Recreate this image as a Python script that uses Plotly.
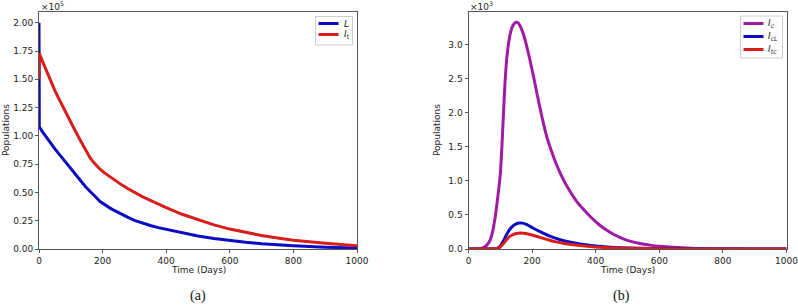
import plotly.graph_objects as go

# ---- Data ----
t_L = [0, 1, 10, 20, 35, 50, 66, 80, 97, 113, 129, 145, 160, 170, 180, 192, 205, 220, 235, 250,
       265, 280, 300, 325, 350, 375, 400, 450, 500, 550, 600, 650, 700, 750, 800, 900, 1000]
L_vals = [200000, 108000, 104000, 100000, 94000, 88500, 83000, 78000, 72000, 66500, 61000, 55500,
          51000, 48500, 45500, 42000, 39300, 36800, 34300, 32000, 29900, 28000, 25300, 22900,
          20800, 18900, 17300, 14200, 11500, 9200, 7300, 5900, 4600, 3600, 2800, 1600, 900]

t_It = [0, 1, 10, 20, 35, 50, 66, 80, 97, 113, 129, 145, 160, 170, 180, 192, 205, 223, 240, 260,
        280, 300, 325, 350, 375, 400, 450, 500, 550, 600, 650, 700, 750, 800, 900, 1000]
It_vals = [150000, 173000, 166500, 159500, 149500, 140000, 131000, 123000, 114000, 105000, 96500,
           88000, 81000, 77000, 74000, 70500, 67500, 63800, 60300, 56700, 53300, 50000, 46300,
           43000, 39700, 36500, 30700, 25700, 21300, 17600, 14600, 11900, 9700, 7800, 5000, 2800]

t_Ic = [0, 30, 40, 50, 60, 68, 76, 84, 92, 100, 105, 110, 115, 120, 128, 136, 144, 150, 156, 164,
        173, 183, 194, 205, 215, 230, 246, 260, 275, 290, 305, 320, 340, 360, 382, 410, 435, 460,
        487, 510, 539, 570, 600, 644, 700, 750, 800, 900, 1000]
Ic_vals = [0, 3, 10, 30, 70, 130, 260, 470, 760, 1100, 1500, 2000, 2450, 2780, 3080, 3240, 3310,
           3330, 3320, 3260, 3150, 2980, 2760, 2520, 2290, 1960, 1650, 1450, 1260, 1100, 960, 840,
           700, 590, 480, 360, 275, 205, 150, 112, 80, 57, 40, 24, 12, 6, 3, 1, 0]

t_IcL = [0, 80, 90, 100, 110, 120, 130, 140, 150, 160, 170, 180, 190, 200, 225, 250, 275, 300,
         350, 400, 450, 500, 600, 700, 800, 1000]
IcL_vals = [0, 2, 10, 45, 120, 215, 290, 340, 370, 383, 380, 365, 342, 315, 255, 200, 155, 120,
            75, 45, 27, 15, 5, 1, 0, 0]

t_Itc = [0, 80, 90, 100, 110, 120, 130, 140, 150, 165, 180, 200, 225, 250, 275, 300, 350, 400,
         450, 500, 600, 700, 800, 1000]
Itc_vals = [0, 2, 8, 30, 80, 140, 185, 212, 228, 235, 228, 205, 170, 135, 105, 82, 50, 30, 18,
            10, 3, 1, 0, 0]

x_ticks = [0, 200, 400, 600, 800, 1000]
x_ticktext = ["0", "200", "400", "600", "800", "1000"]
yA_ticks = [0, 25000, 50000, 75000, 100000, 125000, 150000, 175000, 200000]
yA_ticktext = ["0.00", "0.25", "0.50", "0.75", "1.00", "1.25", "1.50", "1.75", "2.00"]
yB_ticks = [0, 500, 1000, 1500, 2000, 2500, 3000]
yB_ticktext = ["0.0", "0.5", "1.0", "1.5", "2.0", "2.5", "3.0"]

legendA_names = ["<i>L</i>", "<i>I</i><sub>t</sub>"]
legendB_names = ["<i>I<sub>c</sub></i>", "<i>I<sub>cL</sub></i>", "<i>I<sub>tc</sub></i>"]

BLUE = "#0b0bc4"
RED = "#d91c1c"
PURPLE = "#a01aa6"
LW = 3

W, H = 798, 308
def px_x(p):
    return p / W
def px_y(p):
    return 1 - p / H

fig = go.Figure()

fig.add_trace(go.Scatter(x=t_L, y=L_vals, mode="lines", line=dict(color=BLUE, width=LW),
                         name=legendA_names[0], xaxis="x", yaxis="y"))
fig.add_trace(go.Scatter(x=t_It, y=It_vals, mode="lines", line=dict(color=RED, width=LW),
                         name=legendA_names[1], xaxis="x", yaxis="y"))
spl = dict(width=LW, shape="spline", smoothing=0.5)
fig.add_trace(go.Scatter(x=t_Ic, y=Ic_vals, mode="lines", line=dict(color=PURPLE, **spl),
                         name=legendB_names[0], xaxis="x2", yaxis="y2"))
fig.add_trace(go.Scatter(x=t_IcL, y=IcL_vals, mode="lines", line=dict(color=BLUE, **spl),
                         name=legendB_names[1], xaxis="x2", yaxis="y2"))
fig.add_trace(go.Scatter(x=t_Itc, y=Itc_vals, mode="lines", line=dict(color=RED, **spl),
                         name=legendB_names[2], xaxis="x2", yaxis="y2"))

tickfont = dict(family="DejaVu Sans", size=9, color="#222")
axis_common = dict(showline=True, linecolor="#555", linewidth=1, mirror=True, ticks="outside",
                   ticklen=3, tickcolor="#555", showgrid=False, zeroline=False, tickfont=tickfont,
                   automargin=False, ticklabeloverflow="allow")

ydom = [px_y(249), px_y(12)]
fig.update_layout(
    width=W, height=H, margin=dict(l=0, r=0, t=0, b=0, autoexpand=False),
    plot_bgcolor="white", paper_bgcolor="white", showlegend=False,
    xaxis=dict(domain=[px_x(39), px_x(357)], range=[0, 1000], tickvals=x_ticks, ticktext=x_ticktext,
               anchor="y", **axis_common),
    yaxis=dict(domain=ydom, range=[0, 209500], tickvals=yA_ticks, ticktext=yA_ticktext,
               anchor="x", **axis_common),
    xaxis2=dict(domain=[px_x(468.5), px_x(786.5)], range=[0, 1000], tickvals=x_ticks, ticktext=x_ticktext,
                anchor="y2", **axis_common),
    yaxis2=dict(domain=ydom, range=[0, 3480], tickvals=yB_ticks, ticktext=yB_ticktext,
                anchor="x2", **axis_common),
)

# ---- Legends (drawn compactly like the reference) ----
def draw_legend(box, line_x0, line_x1, text_x, rows, names, colors):
    x0, y0, x1, y1 = box
    fig.add_shape(type="rect", xref="paper", yref="paper",
                  x0=px_x(x0), x1=px_x(x1), y0=px_y(y1), y1=px_y(y0),
                  line=dict(color="#cccccc", width=1), fillcolor="white", layer="above")
    for ry, nm, col in zip(rows, names, colors):
        fig.add_shape(type="line", xref="paper", yref="paper",
                      x0=px_x(line_x0), x1=px_x(line_x1), y0=px_y(ry), y1=px_y(ry),
                      line=dict(color=col, width=LW), layer="above")
        fig.add_annotation(text=nm, x=px_x(text_x), y=px_y(ry), xref="paper", yref="paper",
                           showarrow=False, xanchor="left", yanchor="middle",
                           font=dict(family="DejaVu Sans", size=9, color="#222"))

draw_legend((315.5, 16.5, 352.5, 45), 318.5, 338.5, 342, [23.5, 34.5], legendA_names, [BLUE, RED])
draw_legend((740.5, 16, 782.5, 58), 743.5, 763.5, 766, [23.5, 36.5, 49.5], legendB_names, [PURPLE, BLUE, RED])

annfont = dict(family="DejaVu Sans", size=9, color="#222")
anns = [
    dict(text="×10<sup>5</sup>", x=px_x(39), y=px_y(6), xanchor="left", yanchor="middle"),
    dict(text="×10<sup>3</sup>", x=px_x(468.5), y=px_y(6), xanchor="left", yanchor="middle"),
    dict(text="Time (Days)", x=px_x(198), y=px_y(270), xanchor="center", yanchor="middle"),
    dict(text="Time (Days)", x=px_x(627), y=px_y(270), xanchor="center", yanchor="middle"),
    dict(text="Populations", x=px_x(6), y=px_y(130), xanchor="center", yanchor="middle", textangle=-90),
    dict(text="Populations", x=px_x(437), y=px_y(130), xanchor="center", yanchor="middle", textangle=-90),
]
for a in anns:
    fig.add_annotation(xref="paper", yref="paper", showarrow=False, font=annfont, **a)

capfont = dict(family="Liberation Serif", size=14, color="#111")
fig.add_annotation(text="(a)", x=px_x(198), y=px_y(296), xref="paper", yref="paper", showarrow=False,
                   xanchor="center", yanchor="middle", font=capfont)
fig.add_annotation(text="(b)", x=px_x(621), y=px_y(296), xref="paper", yref="paper", showarrow=False,
                   xanchor="center", yanchor="middle", font=capfont)

fig.write_html("out.html", config={"displayModeBar": False},
               post_script="document.body.style.margin='0';document.body.style.padding='0';"
                           "document.body.style.overflow='hidden';")
